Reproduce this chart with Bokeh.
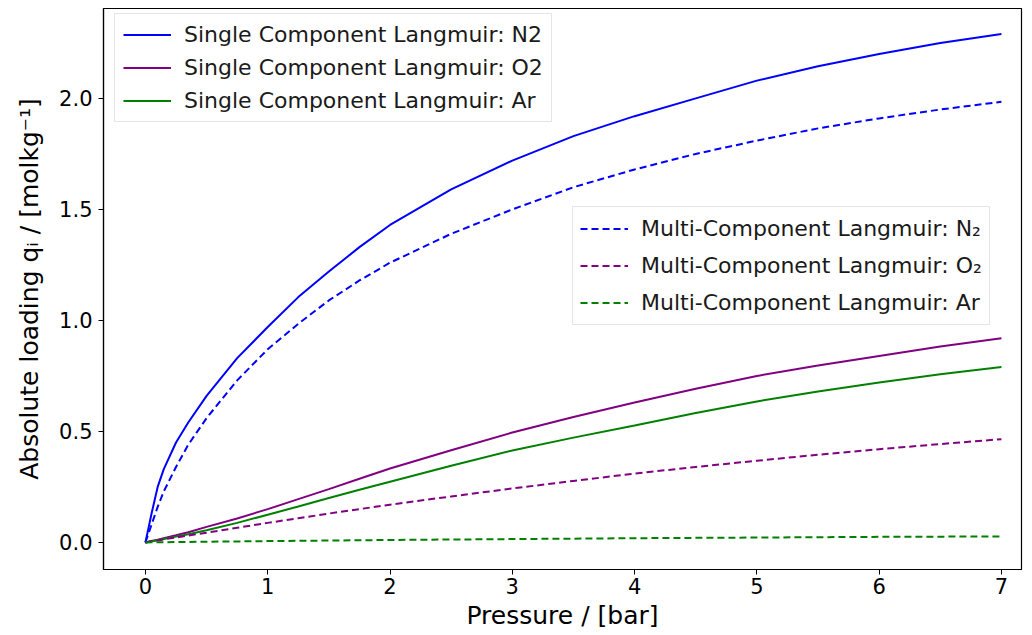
from bokeh.plotting import figure
from bokeh.models import Range1d, FixedTicker, Legend, LegendItem, NumeralTickFormatter
from bokeh.embed import file_html
from bokeh.resources import INLINE

# Pressure grid (bar) at which the loadings were sampled
pressure = [0.0, 0.05, 0.1, 0.15, 0.25, 0.35, 0.5, 0.75, 1.0, 1.25, 1.5, 1.75, 2.0,
            2.5, 3.0, 3.5, 4.0, 4.5, 5.0, 5.5, 6.0, 6.5, 7.0]

# Single component Langmuir loadings (mol/kg)
single_n2 = [0.0, 0.13, 0.25, 0.33, 0.45, 0.54, 0.66, 0.83, 0.97, 1.105, 1.22, 1.33, 1.43,
             1.59, 1.72, 1.83, 1.92, 2.0, 2.08, 2.145, 2.20, 2.25, 2.29]
single_o2 = [0.0, 0.006, 0.012, 0.019, 0.032, 0.046, 0.07, 0.108, 0.15, 0.195, 0.24, 0.287, 0.333,
             0.415, 0.495, 0.565, 0.63, 0.692, 0.75, 0.797, 0.84, 0.882, 0.92]
single_ar = [0.0, 0.005, 0.01, 0.015, 0.026, 0.037, 0.055, 0.088, 0.125, 0.162, 0.2, 0.237, 0.273,
             0.345, 0.414, 0.472, 0.527, 0.583, 0.635, 0.68, 0.72, 0.757, 0.79]

# Multi-component Langmuir loadings (mol/kg)
multi_n2 = [0.0, 0.08, 0.16, 0.23, 0.34, 0.44, 0.56, 0.73, 0.87, 0.985, 1.09, 1.18, 1.26,
            1.39, 1.50, 1.60, 1.68, 1.75, 1.81, 1.865, 1.91, 1.95, 1.985]
multi_o2 = [0.0, 0.005, 0.009, 0.014, 0.022, 0.031, 0.044, 0.066, 0.088, 0.109, 0.13, 0.15, 0.17,
            0.207, 0.243, 0.277, 0.31, 0.34, 0.368, 0.395, 0.42, 0.443, 0.465]
multi_ar = [0.0, 0.0004, 0.0007, 0.001, 0.0017, 0.0022, 0.003, 0.0045, 0.006, 0.0073, 0.0085, 0.0098, 0.011,
            0.013, 0.015, 0.017, 0.019, 0.0205, 0.022, 0.0235, 0.025, 0.026, 0.027]

x_ticks = [0, 1, 2, 3, 4, 5, 6, 7]
y_ticks = [0.0, 0.5, 1.0, 1.5, 2.0]

FONT = "DejaVu Sans"

p = figure(width=1032, height=635, output_backend="svg", toolbar_location=None,
           x_range=Range1d(-0.343, 7.164), y_range=Range1d(-0.122, 2.405),
           min_border_left=103, min_border_right=11, min_border_top=8, min_border_bottom=66)

p.background_fill_color = "white"
p.border_fill_color = "white"
p.outline_line_color = "black"
p.outline_line_width = 1.2
p.xgrid.visible = False
p.ygrid.visible = False

for ax in (p.xaxis[0], p.yaxis[0]):
    ax.axis_line_color = "black"
    ax.axis_line_width = 1.2
    ax.major_tick_out = 5
    ax.major_tick_in = 0
    ax.major_tick_line_color = "black"
    ax.minor_tick_line_color = None
    ax.major_label_text_font = FONT
    ax.major_label_text_font_size = "21px"
    ax.major_label_text_color = "black"
    ax.axis_label_text_font = FONT
    ax.axis_label_text_font_size = "25px"
    ax.axis_label_text_font_style = "normal"
    ax.axis_label_text_color = "black"

p.xaxis.ticker = FixedTicker(ticks=x_ticks)
p.yaxis.ticker = FixedTicker(ticks=y_ticks)
p.yaxis.formatter = NumeralTickFormatter(format="0.0")
p.xaxis.major_label_standoff = 3
p.yaxis.major_label_standoff = 6
p.xaxis.axis_label = "Pressure / [bar]"
p.yaxis.axis_label = "Absolute loading qᵢ / [molkg⁻¹]"
p.xaxis.axis_label_standoff = 4
p.yaxis.axis_label_standoff = 12

LW = 2
DASH = "7 4"

r1 = p.line(pressure, single_n2, line_color="blue", line_width=LW)
r2 = p.line(pressure, single_o2, line_color="purple", line_width=LW)
r3 = p.line(pressure, single_ar, line_color="green", line_width=LW)
r4 = p.line(pressure, multi_n2, line_color="blue", line_width=LW, line_dash=DASH)
r5 = p.line(pressure, multi_o2, line_color="purple", line_width=LW, line_dash=DASH)
r6 = p.line(pressure, multi_ar, line_color="green", line_width=LW, line_dash=DASH)


def make_legend(items, loc, label_h, pad):
    return Legend(items=items, location=loc, orientation="vertical",
                  label_text_font=FONT, label_text_font_size="22px",
                  label_text_color="#1a1a1a", label_height=label_h,
                  glyph_width=48, glyph_height=label_h, label_standoff=13,
                  spacing=8, padding=pad, margin=0,
                  border_line_color="#cccccc", border_line_width=1,
                  background_fill_color="white", background_fill_alpha=0.85)


legend_single = make_legend([
    LegendItem(label="Single Component Langmuir: N2", renderers=[r1]),
    LegendItem(label="Single Component Langmuir: O2", renderers=[r2]),
    LegendItem(label="Single Component Langmuir: Ar", renderers=[r3]),
], (11, 447), 25, 8)

legend_multi = make_legend([
    LegendItem(label="Multi-Component Langmuir: N₂", renderers=[r4]),
    LegendItem(label="Multi-Component Langmuir: O₂", renderers=[r5]),
    LegendItem(label="Multi-Component Langmuir: Ar", renderers=[r6]),
], (469, 244), 29, 7)

p.add_layout(legend_single, "center")
p.add_layout(legend_multi, "center")

open("out.html", "w").write(file_html(p, INLINE))
